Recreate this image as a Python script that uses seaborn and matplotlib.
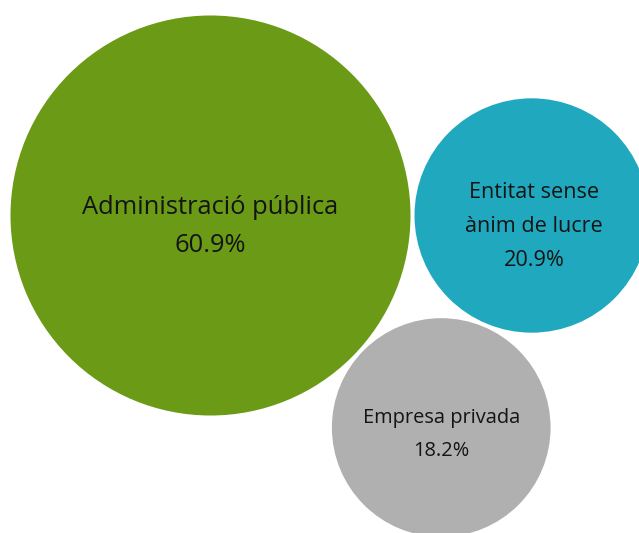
import numpy as np
import pandas as pd
import matplotlib
matplotlib.use("Agg")
import matplotlib.pyplot as plt
import seaborn as sns

# Share of entities by type
categories = ["Administració pública", "Entitat sense ànim de lucre", "Empresa privada"]
labels = ["Administració pública", "Entitat sense\nànim de lucre", "Empresa privada"]
values = [60.9, 20.9, 18.2]
colors = ["#6A9A16", "#1FA8BE", "#B0B0B0"]

W, H, DPI = 639, 533, 100
sns.set_theme(style="white")
plt.rcParams["font.family"] = ["Open Sans", "DejaVu Sans"]

# Bubble area proportional to value (radius in pixels)
k = 25.63
radii = [k * np.sqrt(v) for v in values]
gap = 4.0

# Simple packing: biggest bubble on the left, second to its right,
# third tucked below, touching both
c0 = np.array([210.5, 215.5])
c1 = c0 + np.array([radii[0] + radii[1] + gap, 0.0])
d1 = radii[0] + radii[2] + gap
d2 = radii[1] + radii[2] + gap
D = np.linalg.norm(c1 - c0)
a = (d1**2 - d2**2 + D**2) / (2 * D)
h = np.sqrt(d1**2 - a**2)
c2 = c0 + np.array([a, h])
centers = np.array([c0, c1, c2])

df = pd.DataFrame({
    "category": categories,
    "value": values,
    "x": centers[:, 0],
    "y": centers[:, 1],
})

px_to_pt = 72.0 / DPI
size_map = {v: (2 * r * px_to_pt) ** 2 for v, r in zip(values, radii)}

fig = plt.figure(figsize=(W / DPI, H / DPI), dpi=DPI)
ax = fig.add_axes([0, 0, 1, 1])
sns.scatterplot(data=df, x="x", y="y", hue="category", palette=dict(zip(categories, colors)),
                size="value", sizes=size_map, linewidth=0, alpha=1, legend=False, ax=ax)
ax.set_xlim(0, W)
ax.set_ylim(H, 0)
ax.axis("off")

# Labels: name lines then percentage
fontsizes = [18.4, 15.6, 14.4]
line_offsets = [[-7.5, 30.5], [-23.5, 11.5, 44.5], [-9.5, 23.5]]
for (cx, cy), lab, v, fs, offs in zip(centers, labels, values, fontsizes, line_offsets):
    lines = lab.split("\n") + [f"{v:.1f}%"]
    for line, dy in zip(lines, offs):
        ax.text(cx + (2.5 if len(lines) == 3 else 0), cy + dy, line, ha="center", va="center",
                fontsize=fs, color="#141414")

fig.savefig("out.png", dpi=DPI)
